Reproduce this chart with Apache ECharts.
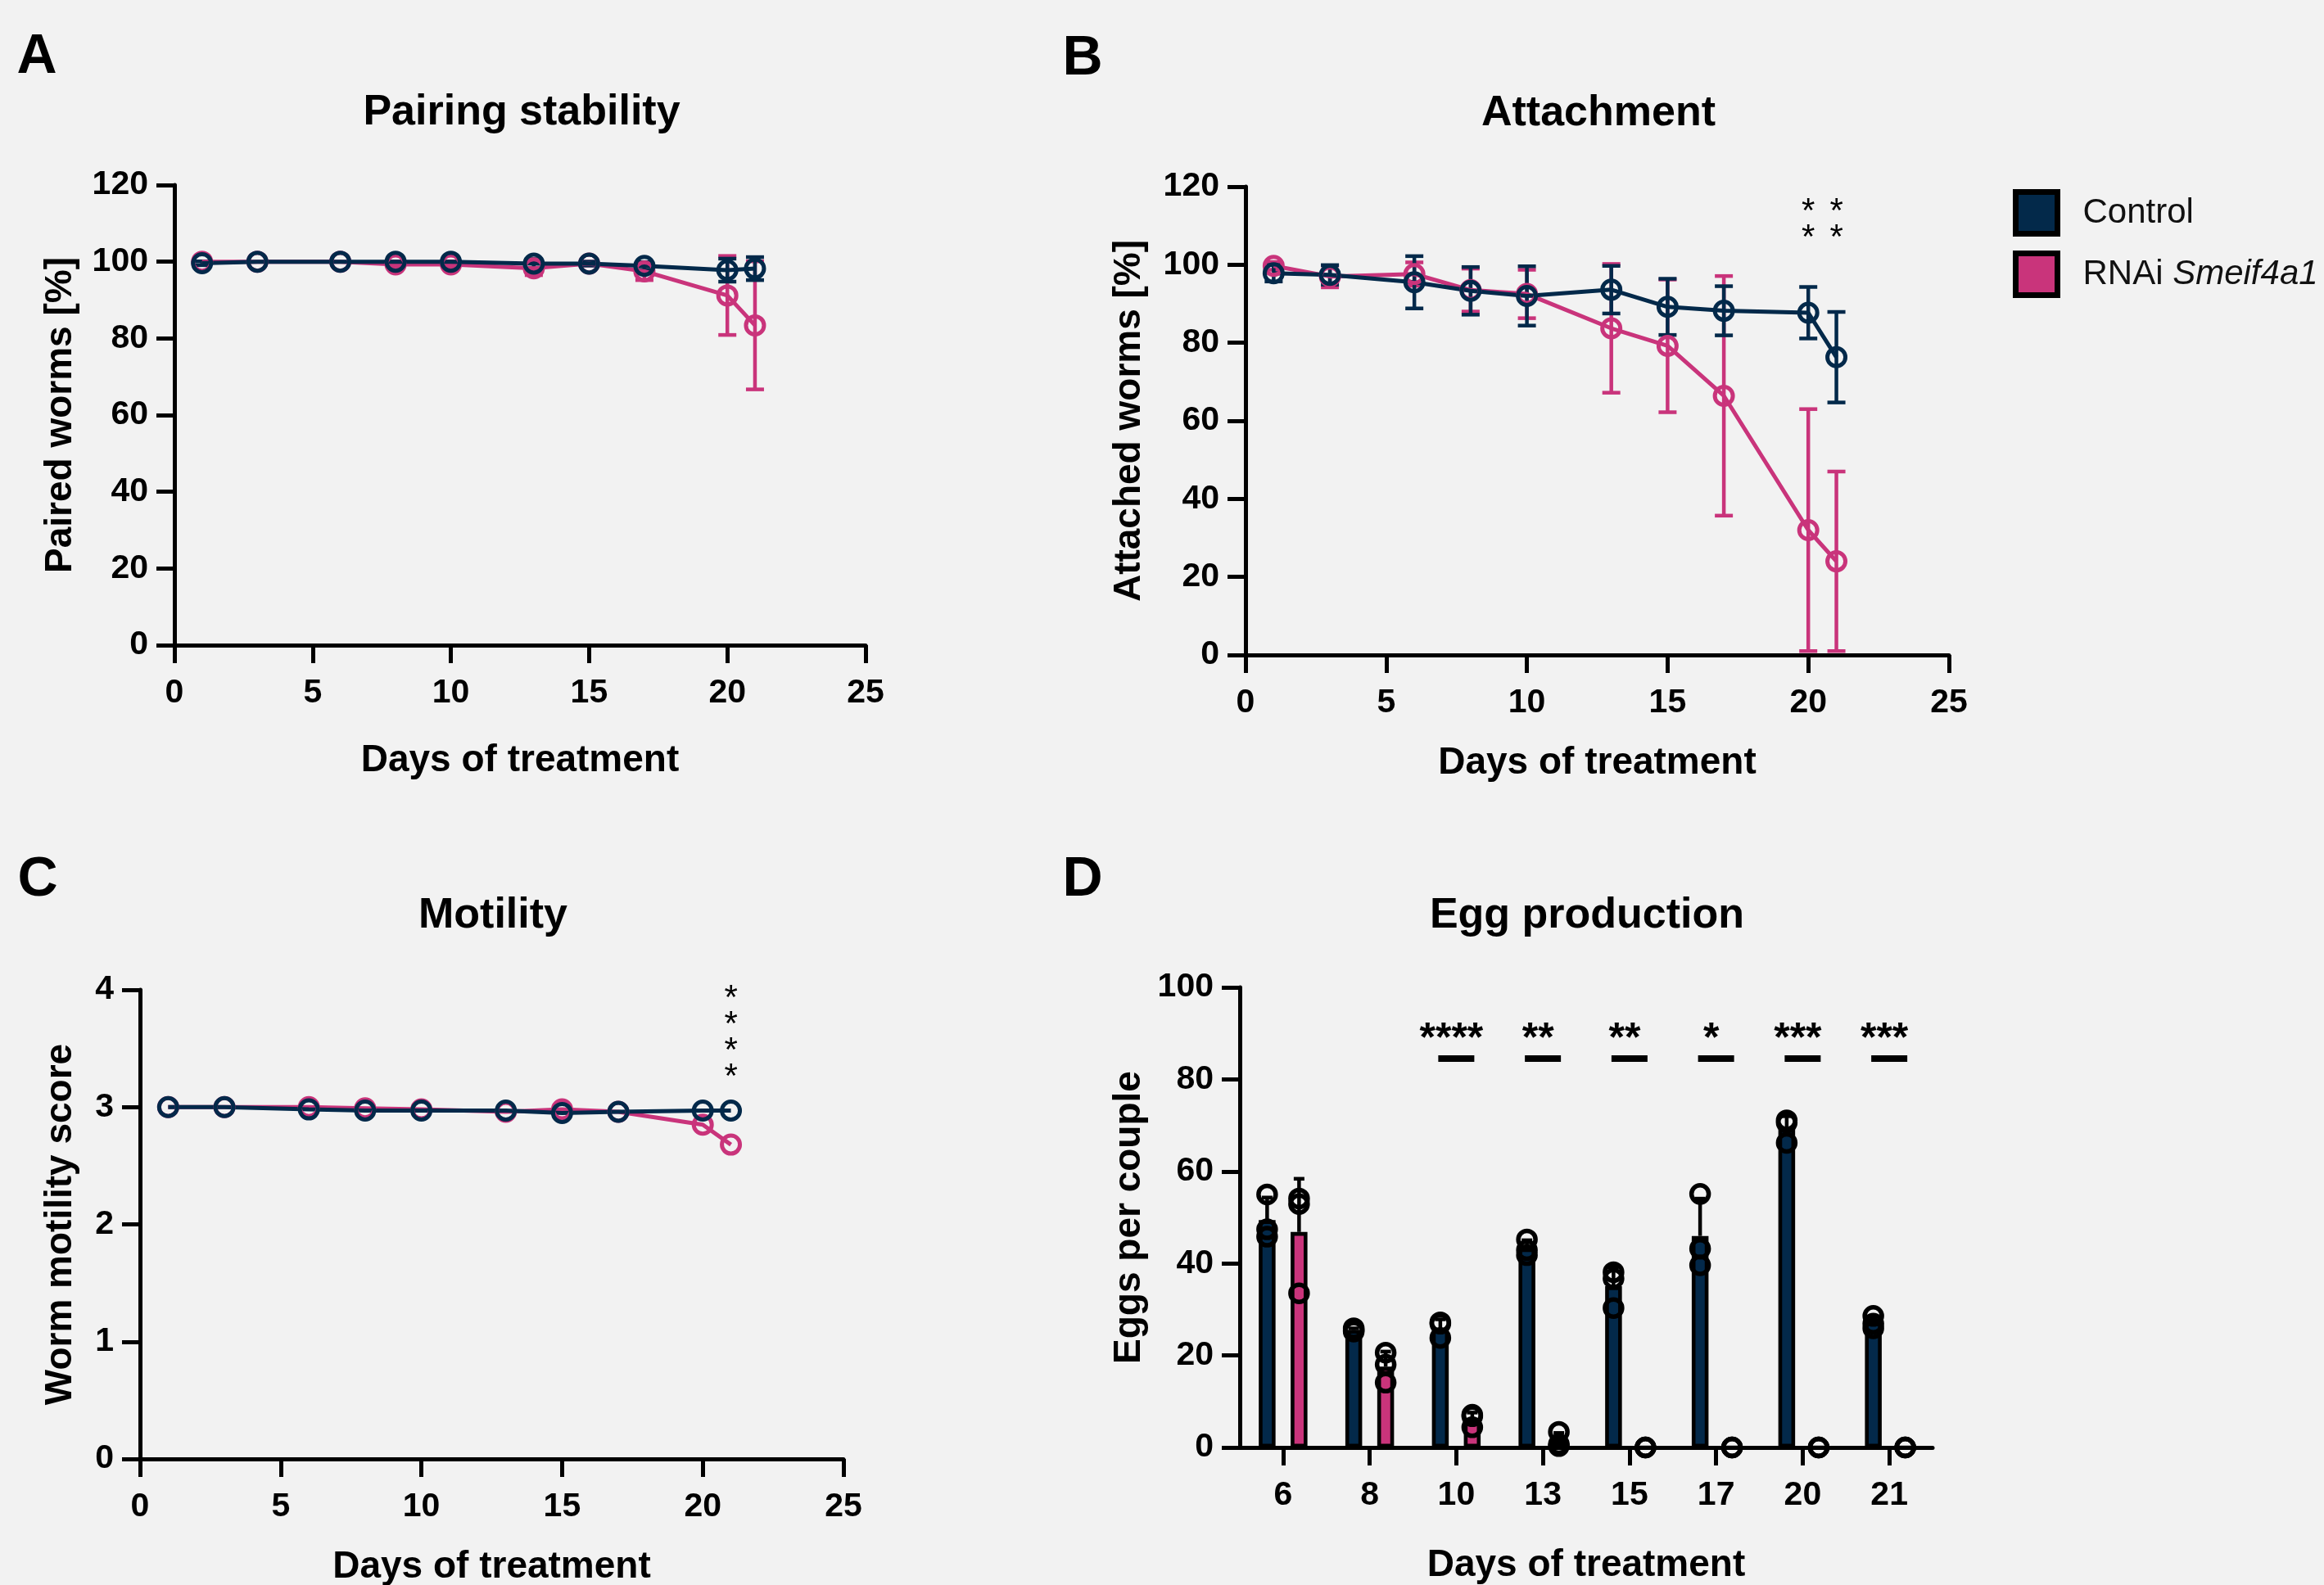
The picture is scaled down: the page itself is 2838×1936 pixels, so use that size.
<!DOCTYPE html>
<html>
<head>
<meta charset="utf-8">
<script src="https://cdn.jsdelivr.net/npm/echarts@6/dist/echarts.min.js"></script>
<style>
  html, body { margin: 0; padding: 0; background: #f2f2f2; }
  #main { width: 2838px; height: 1936px; }
</style>
</head>
<body>
<div id="main"></div>
<script>
// sampling days for panels A-C
var days = [1, 3, 6, 8, 10, 13, 15, 17, 20, 21];

// A: pairing stability [%]
var pairCtrl   = [99.6, 100, 100, 100, 100, 99.5, 99.5, 98.9, 97.8, 98.2];
var pairCtrlSd = [0.5, 0, 0, 0, 0, 1.2, 0.5, 1, 3, 3];
var pairRnai   = [100, 100, 100, 99.3, 99.3, 98.3, 99.5, 97.5, 91.2, 83.4];
var pairRnaiSd = [0, 0, 0, 0.8, 0.8, 1.8, 0.5, 2.3, 10.3, 16.7];

// B: attachment [%]
var attCtrl   = [97.8, 97.4, 95.5, 93.3, 92.0, 93.6, 89.2, 88.2, 87.7, 76.3];
var attCtrlSd = [2.1, 2.5, 6.7, 6.1, 7.6, 6.1, 7.2, 6.3, 6.6, 11.6];
var attRnai   = [99.7, 97.0, 97.6, 93.5, 92.5, 83.7, 79.2, 66.4, 32.0, 24.0];
var attRnaiSd = [1, 2.8, 3, 5.5, 6.2, 16.5, 17, 30.7, 31, 23];
var attStarDays = [20, 21];
var attStars    = ['**', '**'];

// C: motility score
var motCtrl = [3.0, 3.0, 2.98, 2.97, 2.97, 2.97, 2.95, 2.96, 2.97, 2.97];
var motRnai = [3.0, 3.0, 3.0, 2.99, 2.98, 2.96, 2.98, 2.96, 2.85, 2.68];
var motStarDays = [21];
var motStars    = ['****'];

// D: eggs per couple, three couples per day
var eggDays = ['6', '8', '10', '13', '15', '17', '20', '21'];
var eggCtrl = [[55.0, 47.4, 45.8], [25.9, 25.5, 25.2], [27.2, 26.9, 23.8], [45.2, 42.9, 41.8],
               [38.1, 36.7, 30.3], [55.1, 43.2, 39.6], [71.1, 70.6, 66.2], [28.6, 26.9, 25.9]];
var eggRnai = [[54.1, 52.9, 33.5], [20.6, 18.0, 14.1], [7.1, 6.8, 4.4], [3.4, 0.7, 0.3],
               [0, 0, 0], [0, 0, 0], [0, 0, 0], [0, 0, 0]];
var eggStars = ['', '', '****', '**', '**', '*', '***', '***'];

var NAVY = '#03294a';
var PINK = '#c9347b';
var FONT = '"Liberation Sans", Arial, sans-serif';

function mean(a) { return a.reduce(function (s, v) { return s + v; }, 0) / a.length; }
function sd(a) {
  var m = mean(a);
  return Math.sqrt(a.reduce(function (s, v) { return s + (v - m) * (v - m); }, 0) / (a.length - 1));
}

var chart = echarts.init(document.getElementById('main'));

var axisLook = {
  axisLine: { show: true, lineStyle: { color: '#000', width: 5 } },
  axisTick: { show: true, length: 22, lineStyle: { color: '#000', width: 5 } },
  splitLine: { show: false },
  nameTextStyle: { color: '#000', fontSize: 46, fontWeight: 'bold', fontFamily: FONT }
};
function labelLook(margin) {
  return { color: '#000', fontSize: 41, fontWeight: 'bold', fontFamily: FONT, margin: margin };
}

function dayAxis(gi, gap) {
  return Object.assign({}, axisLook, {
    type: 'value', gridIndex: gi, min: 0, max: 25, interval: 5,
    name: 'Days of treatment', nameLocation: 'middle', nameGap: gap,
    axisLabel: labelLook(38)
  });
}
function valAxis(gi, max, interval, name, gap) {
  return Object.assign({}, axisLook, {
    type: 'value', gridIndex: gi, min: 0, max: max, interval: interval,
    name: name, nameLocation: 'middle', nameGap: gap,
    axisLabel: labelLook(32)
  });
}

function lineSeries(name, gi, ys, color) {
  return {
    name: name, type: 'line', xAxisIndex: gi, yAxisIndex: gi,
    data: days.map(function (d, i) { return [d, ys[i]]; }),
    symbol: 'circle', symbolSize: 22,
    lineStyle: { color: color, width: 5 },
    itemStyle: { color: 'rgba(0,0,0,0)', borderColor: color, borderWidth: 5 },
    emphasis: { disabled: true }, silent: true
  };
}

// error bars; offset in px for grouped bars, upOnly for bar charts
function whiskers(gi, rows, color, opt) {
  return {
    type: 'custom', xAxisIndex: gi, yAxisIndex: gi, silent: true,
    data: rows,
    renderItem: function (params, api) {
      var x = api.value(0), m = api.value(1), s = api.value(2);
      if (!s) return { type: 'group', children: [] };
      var top = api.coord([x, m + s]);
      var bot = api.coord([x, opt.upOnly ? m : m - s]);
      var cx = top[0] + (opt.offset || 0), h = opt.cap / 2;
      var st = { stroke: color, lineWidth: opt.lw };
      var kids = [
        { type: 'line', shape: { x1: cx, y1: top[1], x2: cx, y2: bot[1] }, style: st },
        { type: 'line', shape: { x1: cx - h, y1: top[1], x2: cx + h, y2: top[1] }, style: st }
      ];
      if (!opt.upOnly) {
        kids.push({ type: 'line', shape: { x1: cx - h, y1: bot[1], x2: cx + h, y2: bot[1] }, style: st });
      }
      return { type: 'group', children: kids };
    }
  };
}

// stacked asterisks above a day
function starColumn(gi, xs, stars, level, size, weight) {
  return {
    type: 'custom', xAxisIndex: gi, yAxisIndex: gi, silent: true,
    data: xs.map(function (d, i) { return [d, level]; }),
    renderItem: function (params, api) {
      var p = api.coord([api.value(0), api.value(1)]);
      return {
        type: 'text', x: p[0], y: p[1] + 9,
        style: {
          text: stars[params.dataIndex].split('').join('\n'),
          fontSize: size, fontWeight: weight, fontFamily: FONT, lineHeight: 32,
          fill: '#000', align: 'center', verticalAlign: 'middle'
        }
      };
    }
  };
}

var BAR_OFF = 19.5;
var ctrlMean = eggCtrl.map(mean), rnaiMean = eggRnai.map(mean);
var ctrlSd = eggCtrl.map(sd), rnaiSd = eggRnai.map(sd);

function dots(name, reps, off) {
  var pts = [];
  reps.forEach(function (r, i) { r.forEach(function (v) { pts.push([i, v]); }); });
  return {
    type: 'scatter', xAxisIndex: 3, yAxisIndex: 3, data: pts, silent: true,
    symbol: 'circle', symbolSize: 21, symbolOffset: [off, 0],
    itemStyle: { color: 'rgba(0,0,0,0)', borderColor: '#000', borderWidth: 5.5, opacity: 1 },
    z: 5
  };
}

function pageText(x, y, text, size) {
  return {
    type: 'text', x: x, y: y,
    style: { text: text, fontSize: size, fontWeight: 'bold', fontFamily: FONT, fill: '#000',
             align: 'center', verticalAlign: 'middle' }
  };
}

var option = {
  backgroundColor: '#f2f2f2',
  animation: false,
  graphic: [
    pageText(45, 70, 'A', 68), pageText(1322, 72, 'B', 68),
    pageText(46, 1075, 'C', 68), pageText(1322, 1075, 'D', 68),
    pageText(637, 138, 'Pairing stability', 52),
    pageText(1952, 139, 'Attachment', 52),
    pageText(602, 1119, 'Motility', 52),
    pageText(1938, 1119, 'Egg production', 52)
  ],
  legend: {
    left: 2458, top: 231, orient: 'vertical', icon: 'rect', padding: 0,
    itemWidth: 51, itemHeight: 51, itemGap: 17, selectedMode: false,
    data: [
      { name: 'Control', itemStyle: { color: NAVY, borderColor: '#000', borderWidth: 7 } },
      { name: 'RNAi Smeif4a1', itemStyle: { color: PINK, borderColor: '#000', borderWidth: 7 } }
    ],
    formatter: function (n) { return n === 'Control' ? '{n|Control}' : '{n|RNAi }{i|Smeif4a1}'; },
    textStyle: {
      rich: {
        n: { fontSize: 42, fontFamily: FONT, color: '#111', padding: [0, 0, 0, 26] },
        i: { fontSize: 42, fontFamily: FONT, color: '#111', fontStyle: 'italic' }
      }
    }
  },
  grid: [
    { left: 213, top: 226, width: 844, height: 562, outerBoundsMode: 'none' },
    { left: 1521, top: 228, width: 859, height: 572, outerBoundsMode: 'none' },
    { left: 171, top: 1209, width: 859, height: 573, outerBoundsMode: 'none' },
    { left: 1514, top: 1206, width: 846, height: 562, outerBoundsMode: 'none' }
  ],
  xAxis: [
    dayAxis(0, 118),
    dayAxis(1, 109),
    dayAxis(2, 109),
    Object.assign({}, axisLook, {
      type: 'category', gridIndex: 3, data: eggDays,
      axisTick: { show: true, alignWithLabel: true, length: 22, lineStyle: { color: '#000', width: 5 } },
      name: 'Days of treatment', nameLocation: 'middle', nameGap: 121,
      axisLabel: labelLook(38)
    })
  ],
  yAxis: [
    valAxis(0, 120, 20, 'Paired worms [%]', 116),
    valAxis(1, 120, 20, 'Attached worms [%]', 119),
    valAxis(2, 4, 1, 'Worm motility score', 74),
    valAxis(3, 100, 20, 'Eggs per couple', 112)
  ],
  series: [
    // A
    whiskers(0, days.map(function (d, i) { return [d, pairRnai[i], pairRnaiSd[i]]; }), PINK, { cap: 22, lw: 4.5 }),
    lineSeries('RNAi Smeif4a1', 0, pairRnai, PINK),
    whiskers(0, days.map(function (d, i) { return [d, pairCtrl[i], pairCtrlSd[i]]; }), NAVY, { cap: 22, lw: 4.5 }),
    lineSeries('Control', 0, pairCtrl, NAVY),
    // B
    whiskers(1, days.map(function (d, i) { return [d, attRnai[i], attRnaiSd[i]]; }), PINK, { cap: 22, lw: 4.5 }),
    lineSeries('RNAi Smeif4a1', 1, attRnai, PINK),
    whiskers(1, days.map(function (d, i) { return [d, attCtrl[i], attCtrlSd[i]]; }), NAVY, { cap: 22, lw: 4.5 }),
    lineSeries('Control', 1, attCtrl, NAVY),
    starColumn(1, attStarDays, attStars, 112, 42, 'normal'),
    // C
    lineSeries('RNAi Smeif4a1', 2, motRnai, PINK),
    lineSeries('Control', 2, motCtrl, NAVY),
    starColumn(2, motStarDays, motStars, 3.645, 42, 'normal'),
    // D
    {
      name: 'Control', type: 'bar', xAxisIndex: 3, yAxisIndex: 3, data: ctrlMean,
      barWidth: 20.5, barGap: '90%', silent: true,
      itemStyle: { color: NAVY, borderColor: '#000', borderWidth: 4.6 }
    },
    {
      name: 'RNAi Smeif4a1', type: 'bar', xAxisIndex: 3, yAxisIndex: 3, data: rnaiMean,
      barWidth: 20.5, barGap: '90%', silent: true,
      itemStyle: { color: PINK, borderColor: '#000', borderWidth: 4.6 }
    },
    Object.assign(whiskers(3, ctrlMean.map(function (m, i) { return [i, m, ctrlSd[i]]; }), '#000',
      { cap: 13, lw: 4.5, upOnly: true, offset: -BAR_OFF }), { z: 4 }),
    Object.assign(whiskers(3, rnaiMean.map(function (m, i) { return [i, m, rnaiSd[i]]; }), '#000',
      { cap: 13, lw: 4.5, upOnly: true, offset: BAR_OFF }), { z: 4 }),
    dots('Control', eggCtrl, -BAR_OFF),
    dots('RNAi Smeif4a1', eggRnai, BAR_OFF),
    {
      type: 'custom', xAxisIndex: 3, yAxisIndex: 3, silent: true,
      data: eggStars.map(function (s, i) { return [i, 84.5]; }),
      renderItem: function (params, api) {
        var s = eggStars[params.dataIndex];
        if (!s) return { type: 'group', children: [] };
        var p = api.coord([api.value(0), api.value(1)]);
        var t = api.coord([api.value(0), 90.3]);
        return {
          type: 'group', children: [
            { type: 'line', shape: { x1: p[0] - 22, y1: p[1], x2: p[0] + 22, y2: p[1] },
              style: { stroke: '#000', lineWidth: 8 } },
            { type: 'text', x: t[0] - 6, y: t[1] + 10,
              style: { text: s, fontSize: 50, fontWeight: 'bold', fontFamily: FONT, fill: '#000',
                       align: 'center', verticalAlign: 'middle' } }
          ]
        };
      }
    }
  ]
};

chart.setOption(option);
</script>
</body>
</html>
